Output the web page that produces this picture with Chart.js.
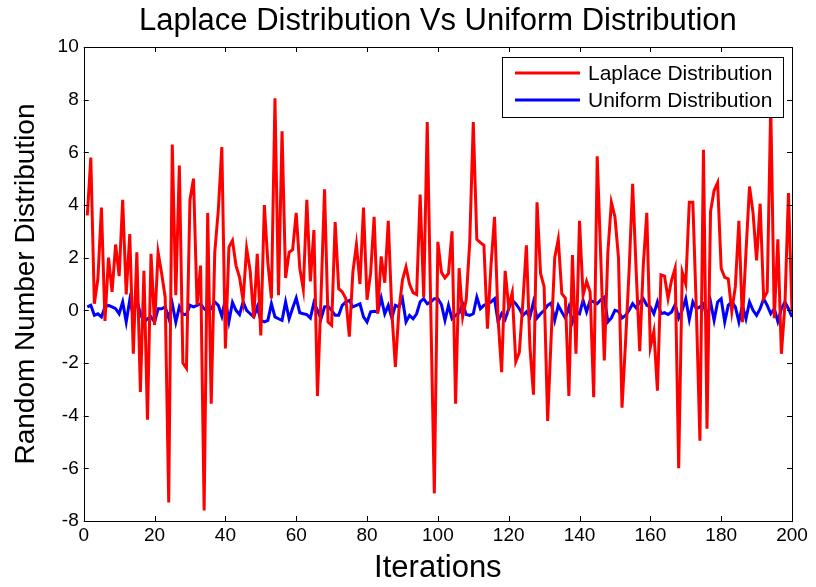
<!DOCTYPE html>
<html>
<head>
<meta charset="utf-8">
<script src="https://cdn.jsdelivr.net/npm/chart.js@4.4.1/dist/chart.umd.min.js"></script>
<style>
  html, body { margin: 0; padding: 0; background: #fff; }
  #wrap { width: 816px; height: 587px; }
</style>
</head>
<body>
<div id="wrap"><canvas id="chart" width="816" height="587"></canvas></div>
<script>
// values, iteration 1..200
const laplaceValues = [
  3.6, 5.8, 0.25, 1.2, 3.9, -0.4, 2.0, 0.7, 2.5, 1.3,
  4.2, 0.6, 2.9, -1.65, 2.2, -3.1, 1.5, -4.15, 2.15, -0.55,
  2.2, 1.4, 0.5, -7.3, 6.3, 0.57, 5.5, -2.0, -2.2, 4.2,
  5.0, 0.2, 1.7, -7.6, 3.7, -3.55, 2.2, 3.8, 6.2, -1.45,
  2.4, 2.65, 1.7, 1.25, 0.38, 2.35, 1.5, -0.3, 2.15, -0.95,
  4.0, 1.8, 0.45, 8.05, 0.57, 6.8, 1.23, 2.2, 2.3, 3.7,
  1.6, 0.8, 4.2, 1.1, 3.05, -3.25, 0.5, 4.6, -0.45, -0.57,
  3.35, 0.82, 0.7, 0.45, -1.0, 1.45, 2.5, 1.0, 3.9, 0.4,
  1.4, 3.55, -0.13, 2.05, 1.05, 3.4, -0.05, -2.15, 0.0, 1.15,
  1.65, 1.0, 0.67, 0.6, 4.4, 0.5, 7.15, 0.0, -6.95, 2.6,
  1.45, 1.23, 1.4, 3.0, -3.55, 1.6, -0.25, 0.4, 2.6, 7.15,
  2.7, 2.57, 2.47, -0.7, 1.7, 3.55, -0.3, -2.35, 1.5, 0.13,
  0.67, -1.95, -1.6, 0.3, 2.47, -1.4, -3.2, 4.1, 1.4, 0.9,
  -4.2, -1.0, 2.0, 2.7, 0.63, 0.47, -3.25, 2.1, -1.65, 3.4,
  0.57, 1.1, 0.7, -3.3, 5.85, 2.0, -1.9, 2.2, 4.1, 3.55,
  2.0, -3.7, -1.2, 1.5, 4.8, 1.5, -1.55, 1.7, 3.7, -1.4,
  -0.8, -3.05, 1.35, 1.3, 0.45, 1.15, 1.6, -6.0, 1.45, 1.0,
  4.1, 4.1, 0.0, -4.95, 6.1, -4.5, 3.75, 4.55, 4.85, 1.6,
  1.25, 1.2, -0.05, 0.9, 3.4, -0.45, 2.2, 4.7, 3.7, 1.9,
  4.05, 0.45, 0.7, 7.8, -0.3, 2.7, -1.65, 0.2, 4.45, -0.05
];

const uniformValues = [
  0.13, 0.19, -0.19, -0.13, -0.25, 0.13, 0.19, 0.13, 0.06, -0.13,
  0.32, -0.44, 0.4, -0.19, 0.4, -0.13, -0.44, -0.32, -0.25, -0.44,
  0.06, 0.06, 0.13, -0.3, 0.25, -0.45, 0.13, -0.16, -0.16, 0.19,
  0.13, 0.19, 0.25, 0.06, -0.04, 0.06, 0.32, 0.19, -0.22, 0.42,
  -0.42, 0.3, 0.0, -0.16, 0.32, 0.0, -0.13, -0.25, 0.13, -0.38,
  -0.44, -0.38, 0.25, -0.25, -0.32, -0.38, 0.32, -0.32, 0.09, 0.47,
  -0.09, -0.13, -0.16, -0.29, 0.29, 0.0, -0.32, 0.13, 0.15, 0.0,
  -0.19, -0.19, 0.19, 0.32, 0.38, 0.13, 0.19, 0.25, -0.25, -0.44,
  -0.06, -0.04, -0.06, 0.47, -0.13, 0.19, -0.29, 0.19, 0.13, 0.44,
  -0.44, -0.19, -0.32, -0.13, 0.32, 0.44, 0.25, 0.32, 0.44, 0.44,
  0.22, -0.38, 0.19, -0.32, -0.19, -0.09, 0.25, -0.16, -0.19, -0.13,
  0.5, 0.06, 0.19, 0.25, 0.32, 0.44, -0.44, -0.13, -0.34, 0.06,
  0.38, 0.25, 0.06, -0.19, -0.06, -0.25, 0.32, -0.29, -0.13, 0.0,
  0.19, 0.28, -0.38, 0.19, -0.06, -0.29, 0.13, -0.44, -0.06, -0.13,
  0.38, -0.06, 0.38, 0.32, 0.25, 0.4, 0.5, -0.44, -0.29, 0.0,
  -0.04, -0.29, -0.19, 0.0, 0.25, 0.09, 0.32, 0.44, 0.19, 0.13,
  -0.13, 0.32, -0.13, -0.09, -0.16, -0.06, 0.22, -0.29, 0.0, 0.44,
  -0.34, 0.32, 0.06, 0.13, 0.25, -0.32, 0.32, -0.38, 0.32, 0.44,
  -0.44, 0.19, 0.32, 0.13, -0.44, 0.19, -0.32, 0.32, 0.0, -0.19,
  0.06, 0.44, 0.19, -0.13, 0.06, -0.42, 0.06, 0.32, 0.06, -0.25
];

const seriesNames = ['Laplace Distribution', 'Uniform Distribution'];
const seriesColors = ['#ff0000', '#0000ff'];
const xTicks = [0, 20, 40, 60, 80, 100, 120, 140, 160, 180, 200];
const yTicks = [-8, -6, -4, -2, 0, 2, 4, 6, 8, 10];
const chartTitle = 'Laplace Distribution Vs Uniform Distribution';

const FONT = '"Liberation Sans", Arial, Helvetica, sans-serif';

const toPoints = (vals) => vals.map((v, i) => ({ x: i + 1, y: v }));

// MATLAB-like box with inward ticks on all four sides
const boxTicks = {
    id: 'boxTicks',
    afterDatasetsDraw(chart) {
        const { ctx, chartArea: a, scales } = chart;
        const len = 5;
        ctx.save();
        ctx.strokeStyle = '#000';
        ctx.lineWidth = 1;
        ctx.beginPath();
        scales.x.ticks.forEach(t => {
            const px = Math.round(scales.x.getPixelForValue(t.value)) + 0.5;
            ctx.moveTo(px, a.bottom); ctx.lineTo(px, a.bottom - len);
            ctx.moveTo(px, a.top); ctx.lineTo(px, a.top + len);
        });
        scales.y.ticks.forEach(t => {
            const py = Math.round(scales.y.getPixelForValue(t.value)) + 0.5;
            ctx.moveTo(a.left, py); ctx.lineTo(a.left + len, py);
            ctx.moveTo(a.right, py); ctx.lineTo(a.right - len, py);
        });
        ctx.stroke();
        ctx.strokeRect(Math.round(a.left) + 0.5, Math.round(a.top) + 0.5,
            Math.round(a.right - a.left), Math.round(a.bottom - a.top));
        ctx.restore();
    }
};

// title centred over the axes, legend box in the upper right corner
const titleAndLegend = {
    id: 'titleAndLegend',
    afterDraw(chart) {
        const { ctx, chartArea: a } = chart;
        ctx.save();
        ctx.fillStyle = '#000';
        ctx.font = '31px ' + FONT;
        ctx.textAlign = 'center';
        ctx.textBaseline = 'middle';
        ctx.fillText(chartTitle, (a.left + a.right) / 2, 21);

        const x = 502, y = 57, w = 281, h = 60;
        ctx.fillStyle = '#fff';
        ctx.fillRect(x, y, w, h);
        ctx.strokeStyle = '#000';
        ctx.lineWidth = 1;
        ctx.strokeRect(x + 0.5, y + 0.5, w, h);
        ctx.font = '21px ' + FONT;
        ctx.textAlign = 'left';
        chart.data.datasets.forEach((ds, i) => {
            const ly = y + 16 + i * 27;
            ctx.strokeStyle = ds.borderColor;
            ctx.lineWidth = 3;
            ctx.beginPath();
            ctx.moveTo(515, ly); ctx.lineTo(580, ly);
            ctx.stroke();
            ctx.fillStyle = '#000';
            ctx.fillText(ds.label, 588, ly + 1);
        });
        ctx.restore();
    }
};

new Chart(document.getElementById('chart'), {
    type: 'line',
    data: {
        datasets: [
            {
                label: seriesNames[0],
                data: toPoints(laplaceValues),
                borderColor: seriesColors[0],
                borderWidth: 3,
                pointRadius: 0,
                tension: 0
            },
            {
                label: seriesNames[1],
                data: toPoints(uniformValues),
                borderColor: seriesColors[1],
                borderWidth: 3,
                pointRadius: 0,
                tension: 0
            }
        ]
    },
    options: {
        responsive: false,
        animation: false,
        layout: { padding: { left: 9, right: 24, top: 47, bottom: 0 } },
        plugins: {
            legend: { display: false },
            tooltip: { enabled: false },
            title: { display: false }
        },
        scales: {
            x: {
                type: 'linear',
                min: 0,
                max: 200,
                afterBuildTicks: (s) => { s.ticks = xTicks.map(v => ({ value: v })); },
                grid: { display: false, drawTicks: false },
                border: { display: false },
                ticks: { color: '#000', font: { family: FONT, size: 19 }, padding: 3, maxRotation: 0 },
                title: {
                    display: true,
                    text: 'Iterations',
                    color: '#000',
                    font: { family: FONT, size: 31 },
                    padding: { top: 0, bottom: 0 }
                }
            },
            y: {
                min: -8,
                max: 10,
                afterBuildTicks: (s) => { s.ticks = yTicks.map(v => ({ value: v })); },
                grid: { display: false, drawTicks: false },
                border: { display: false },
                ticks: { color: '#000', font: { family: FONT, size: 19 }, padding: 5 },
                title: {
                    display: true,
                    text: 'Random Number Distribution',
                    color: '#000',
                    font: { family: FONT, size: 28 },
                    padding: { top: 0, bottom: 10 }
                }
            }
        }
    },
    plugins: [boxTicks, titleAndLegend]
});
</script>
</body>
</html>
